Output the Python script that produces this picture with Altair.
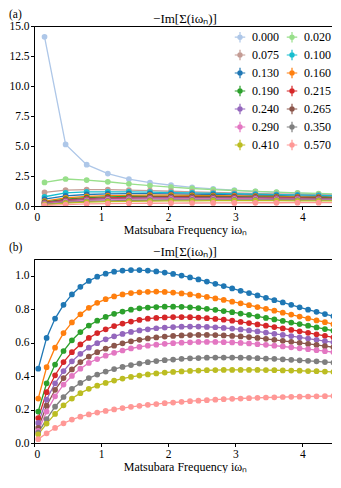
import altair as alt
import pandas as pd

FONT = "Liberation Serif"

# Matsubara frequencies
W_A = [0.157, 0.471, 0.785, 1.100, 1.414, 1.728, 2.042, 2.356, 2.670, 2.985,
       3.299, 3.613, 3.927, 4.241, 4.555]
W_B = [0.063, 0.188, 0.314, 0.440, 0.565, 0.691, 0.817, 0.942, 1.068, 1.194,
       1.319, 1.445, 1.571, 1.696, 1.822, 1.948, 2.073, 2.199, 2.325, 2.450,
       2.576, 2.702, 2.827, 2.953, 3.079, 3.204, 3.330, 3.456, 3.581, 3.707,
       3.833, 3.958, 4.084, 4.210, 4.335, 4.461, 4.587]

LABELS = ["0.000", "0.020", "0.075", "0.100", "0.130", "0.160", "0.190",
          "0.215", "0.240", "0.265", "0.290", "0.350", "0.410", "0.570"]
COLORS = ["#aec7e8", "#98df8a", "#c49c94", "#17becf", "#1f77b4", "#ff7f0e",
          "#2ca02c", "#d62728", "#9467bd", "#8c564b", "#e377c2", "#7f7f7f",
          "#bcbd22", "#ff9896"]

# panel (a) values
A_000 = [14.1, 5.13, 3.44, 2.70, 2.24, 1.95, 1.73, 1.56, 1.43, 1.32, 1.22, 1.14, 1.07, 1.00, 0.95]
A_020 = [1.96, 2.25, 2.16, 2.02, 1.85, 1.70, 1.57, 1.46, 1.37, 1.29, 1.22, 1.15, 1.09, 1.04, 0.99]
A_075 = [1.13, 1.32, 1.37, 1.37, 1.33, 1.28, 1.23, 1.18, 1.13, 1.09, 1.04, 1.00, 0.97, 0.93, 0.90]
A_100 = [0.77, 1.09, 1.17, 1.18, 1.17, 1.15, 1.12, 1.09, 1.05, 1.02, 0.98, 0.95, 0.92, 0.88, 0.85]
A_130 = [0.58, 0.84, 0.96, 1.01, 1.03, 1.03, 1.01, 0.99, 0.96, 0.93, 0.89, 0.86, 0.82, 0.79, 0.75]
A_160 = [0.41, 0.67, 0.80, 0.86, 0.89, 0.90, 0.90, 0.89, 0.87, 0.85, 0.82, 0.79, 0.76, 0.73, 0.70]
A_190 = [0.32, 0.57, 0.69, 0.76, 0.79, 0.81, 0.81, 0.81, 0.80, 0.78, 0.76, 0.74, 0.72, 0.69, 0.66]
A_215 = [0.27, 0.50, 0.62, 0.68, 0.72, 0.74, 0.75, 0.75, 0.74, 0.73, 0.71, 0.69, 0.67, 0.65, 0.62]
A_240 = [0.23, 0.45, 0.56, 0.62, 0.66, 0.68, 0.69, 0.70, 0.69, 0.68, 0.67, 0.65, 0.63, 0.62, 0.59]
A_265 = [0.20, 0.40, 0.51, 0.57, 0.61, 0.63, 0.64, 0.65, 0.65, 0.64, 0.63, 0.62, 0.60, 0.59, 0.57]
A_290 = [0.17, 0.36, 0.47, 0.53, 0.57, 0.59, 0.60, 0.60, 0.60, 0.60, 0.59, 0.58, 0.57, 0.55, 0.54]
A_350 = [0.13, 0.29, 0.38, 0.43, 0.46, 0.48, 0.50, 0.51, 0.51, 0.51, 0.51, 0.50, 0.50, 0.49, 0.48]
A_410 = [0.11, 0.24, 0.32, 0.36, 0.39, 0.41, 0.42, 0.43, 0.44, 0.44, 0.44, 0.44, 0.43, 0.43, 0.42]
A_570 = [0.05, 0.12, 0.17, 0.20, 0.22, 0.23, 0.24, 0.25, 0.26, 0.26, 0.27, 0.27, 0.28, 0.28, 0.28]

# panel (b) values
B_130 = [0.444, 0.628, 0.744, 0.826, 0.888, 0.934, 0.969, 0.994, 1.012, 1.024, 1.031, 1.034, 1.034,
         1.031, 1.026, 1.019, 1.011, 1.001, 0.990, 0.978, 0.965, 0.952, 0.938, 0.924, 0.910, 0.896,
         0.882, 0.868, 0.854, 0.840, 0.826, 0.811, 0.797, 0.784, 0.771, 0.758, 0.745]
B_160 = [0.266, 0.453, 0.570, 0.657, 0.721, 0.769, 0.808, 0.838, 0.860, 0.876, 0.888, 0.896, 0.901,
         0.904, 0.905, 0.903, 0.899, 0.894, 0.888, 0.881, 0.873, 0.864, 0.855, 0.845, 0.835, 0.824,
         0.813, 0.802, 0.791, 0.779, 0.768, 0.756, 0.745, 0.733, 0.722, 0.710, 0.699]
B_190 = [0.188, 0.357, 0.469, 0.550, 0.614, 0.663, 0.702, 0.731, 0.754, 0.772, 0.786, 0.797, 0.805,
         0.810, 0.813, 0.815, 0.815, 0.814, 0.811, 0.807, 0.802, 0.796, 0.789, 0.782, 0.774, 0.766,
         0.757, 0.748, 0.739, 0.730, 0.720, 0.711, 0.701, 0.691, 0.681, 0.671, 0.661]
B_215 = [0.149, 0.304, 0.405, 0.484, 0.543, 0.589, 0.628, 0.657, 0.680, 0.699, 0.714, 0.726, 0.736,
         0.743, 0.748, 0.751, 0.753, 0.753, 0.752, 0.750, 0.746, 0.742, 0.737, 0.731, 0.724, 0.717,
         0.709, 0.701, 0.693, 0.685, 0.676, 0.668, 0.659, 0.650, 0.641, 0.632, 0.623]
B_240 = [0.120, 0.260, 0.357, 0.430, 0.488, 0.533, 0.570, 0.597, 0.620, 0.638, 0.652, 0.664, 0.673,
         0.680, 0.686, 0.690, 0.693, 0.695, 0.696, 0.696, 0.694, 0.692, 0.688, 0.684, 0.679, 0.673,
         0.667, 0.660, 0.653, 0.646, 0.639, 0.632, 0.624, 0.617, 0.609, 0.602, 0.594]
B_265 = [0.091, 0.223, 0.318, 0.388, 0.440, 0.484, 0.517, 0.543, 0.564, 0.582, 0.596, 0.608, 0.617,
         0.625, 0.631, 0.636, 0.640, 0.643, 0.645, 0.646, 0.646, 0.645, 0.643, 0.640, 0.637, 0.633,
         0.628, 0.623, 0.617, 0.611, 0.605, 0.599, 0.592, 0.586, 0.579, 0.573, 0.566]
B_290 = [0.072, 0.188, 0.279, 0.349, 0.401, 0.444, 0.479, 0.502, 0.522, 0.539, 0.553, 0.565, 0.574,
         0.582, 0.588, 0.593, 0.597, 0.600, 0.602, 0.604, 0.604, 0.604, 0.603, 0.601, 0.598, 0.595,
         0.591, 0.587, 0.582, 0.577, 0.572, 0.566, 0.561, 0.555, 0.549, 0.543, 0.537]
B_350 = [0.062, 0.143, 0.217, 0.275, 0.324, 0.359, 0.388, 0.409, 0.427, 0.442, 0.455, 0.466, 0.475,
         0.483, 0.490, 0.495, 0.499, 0.503, 0.506, 0.508, 0.510, 0.511, 0.511, 0.511, 0.510, 0.509,
         0.507, 0.505, 0.503, 0.500, 0.497, 0.494, 0.491, 0.488, 0.484, 0.481, 0.477]
B_410 = [0.052, 0.116, 0.174, 0.225, 0.266, 0.298, 0.324, 0.343, 0.359, 0.373, 0.385, 0.395, 0.403,
         0.410, 0.416, 0.421, 0.425, 0.428, 0.431, 0.433, 0.435, 0.436, 0.437, 0.437, 0.437, 0.437,
         0.437, 0.436, 0.435, 0.434, 0.433, 0.432, 0.430, 0.429, 0.427, 0.425, 0.423]
B_570 = [0.023, 0.058, 0.090, 0.118, 0.140, 0.157, 0.171, 0.182, 0.192, 0.201, 0.209, 0.216, 0.222,
         0.228, 0.233, 0.238, 0.242, 0.246, 0.250, 0.253, 0.256, 0.259, 0.262, 0.264, 0.266, 0.268,
         0.270, 0.272, 0.273, 0.275, 0.276, 0.277, 0.278, 0.279, 0.280, 0.281, 0.281]

SERIES_A = [A_000, A_020, A_075, A_100, A_130, A_160, A_190, A_215, A_240, A_265, A_290, A_350, A_410, A_570]
SERIES_B = {"0.130": B_130, "0.160": B_160, "0.190": B_190, "0.215": B_215, "0.240": B_240,
            "0.265": B_265, "0.290": B_290, "0.350": B_350, "0.410": B_410, "0.570": B_570}

rows_a = []
for lab, vals in zip(LABELS, SERIES_A):
    assert len(vals) == len(W_A)
    for w, v in zip(W_A, vals):
        rows_a.append({"T": lab, "w": w, "v": v})
df_a = pd.DataFrame(rows_a)

rows_b = []
for lab, vals in SERIES_B.items():
    assert len(vals) == len(W_B)
    for w, v in zip(W_B, vals):
        rows_b.append({"T": lab, "w": w, "v": v})
df_b = pd.DataFrame(rows_b)

cscale = alt.Scale(domain=LABELS, range=COLORS)
XTITLE = "Matsubara Frequency iωₙ"
PTITLE = "−Im[Σ(iωₙ)]"
ERR_SYMBOL = "M-1,0H1M0,-1V1M-0.4,0A0.4,0.4,0,1,0,0.4,0A0.4,0.4,0,1,0,-0.4,0Z"

W = 302
XMAX = 4.5


def xenc():
    return alt.X("w:Q", scale=alt.Scale(domain=[0, XMAX], nice=False, zero=False),
                 axis=alt.Axis(values=[0, 1, 2, 3, 4], format="d", title=XTITLE))


def panel(df, ydom, yvals, tag, height, legend):
    y = alt.Y("v:Q", scale=alt.Scale(domain=ydom, nice=False),
              axis=alt.Axis(values=yvals, format=".1f", title=None))
    line = alt.Chart(df).mark_line(strokeWidth=1.3, clip=True).encode(
        x=xenc(), y=y, color=alt.Color("T:N", scale=cscale, legend=None),
        order="w:Q")
    if legend:
        leg = alt.Legend(title=None, orient="none", legendX=200, legendY=5, columns=2,
                         direction="horizontal",
                         symbolType=ERR_SYMBOL, symbolSize=110, symbolStrokeWidth=1.2,
                         labelFont=FONT, labelFontSize=12, labelColor="black",
                         labelOffset=6, rowPadding=2, columnPadding=5, padding=0)
    else:
        leg = None
    pts = alt.Chart(df).transform_filter(alt.datum.w <= XMAX).mark_point(
        filled=True, size=14, clip=True, opacity=1).encode(
        x=xenc(), y=y,
        fill=alt.Fill("T:N", scale=cscale, legend=leg),
        stroke=alt.Stroke("T:N", scale=cscale, legend=leg))
    tag_df = pd.DataFrame({"t": [tag]})
    tagtxt = alt.Chart(tag_df).mark_text(align="left", baseline="middle", font=FONT,
                                         fontSize=11.5, color="black").encode(
        text="t:N", x=alt.value(-25), y=alt.value(-11))
    ttl_df = pd.DataFrame({"t": [PTITLE]})
    ttltxt = alt.Chart(ttl_df).mark_text(align="center", baseline="middle", font=FONT,
                                         fontSize=13, color="black").encode(
        text="t:N", x=alt.value(W / 2), y=alt.value(-7))
    return alt.layer(line, pts, tagtxt, ttltxt).properties(
        width=W, height=height,
        view=alt.ViewBackground(stroke="black", strokeWidth=1))


pa = panel(df_a, [0, 15], [0, 2.5, 5, 7.5, 10, 12.5, 15], "(a)", 180, True)
pb = panel(df_b, [0, 1.1], [0, 0.2, 0.4, 0.6, 0.8, 1.0], "(b)", 184, False)

chart = alt.vconcat(pa, pb, spacing=5).resolve_scale(
    color="shared", fill="shared", stroke="shared"
).resolve_legend(
    fill="independent", stroke="independent"
).properties(
    padding={"left": 0, "top": 0, "right": -5, "bottom": 0}
).configure_view(
    stroke="black", strokeWidth=1
).configure_axis(
    labelFont=FONT, titleFont=FONT, labelFontSize=11.5, titleFontSize=12,
    labelColor="black", titleColor="black", titleFontWeight="normal",
    domain=True, domainColor="black", domainWidth=1,
    tickColor="black", tickSize=3.5, labelPadding=1.5, titlePadding=2,
    grid=False
)

chart.save("out.html", embed_options={"renderer": "svg", "actions": False})
